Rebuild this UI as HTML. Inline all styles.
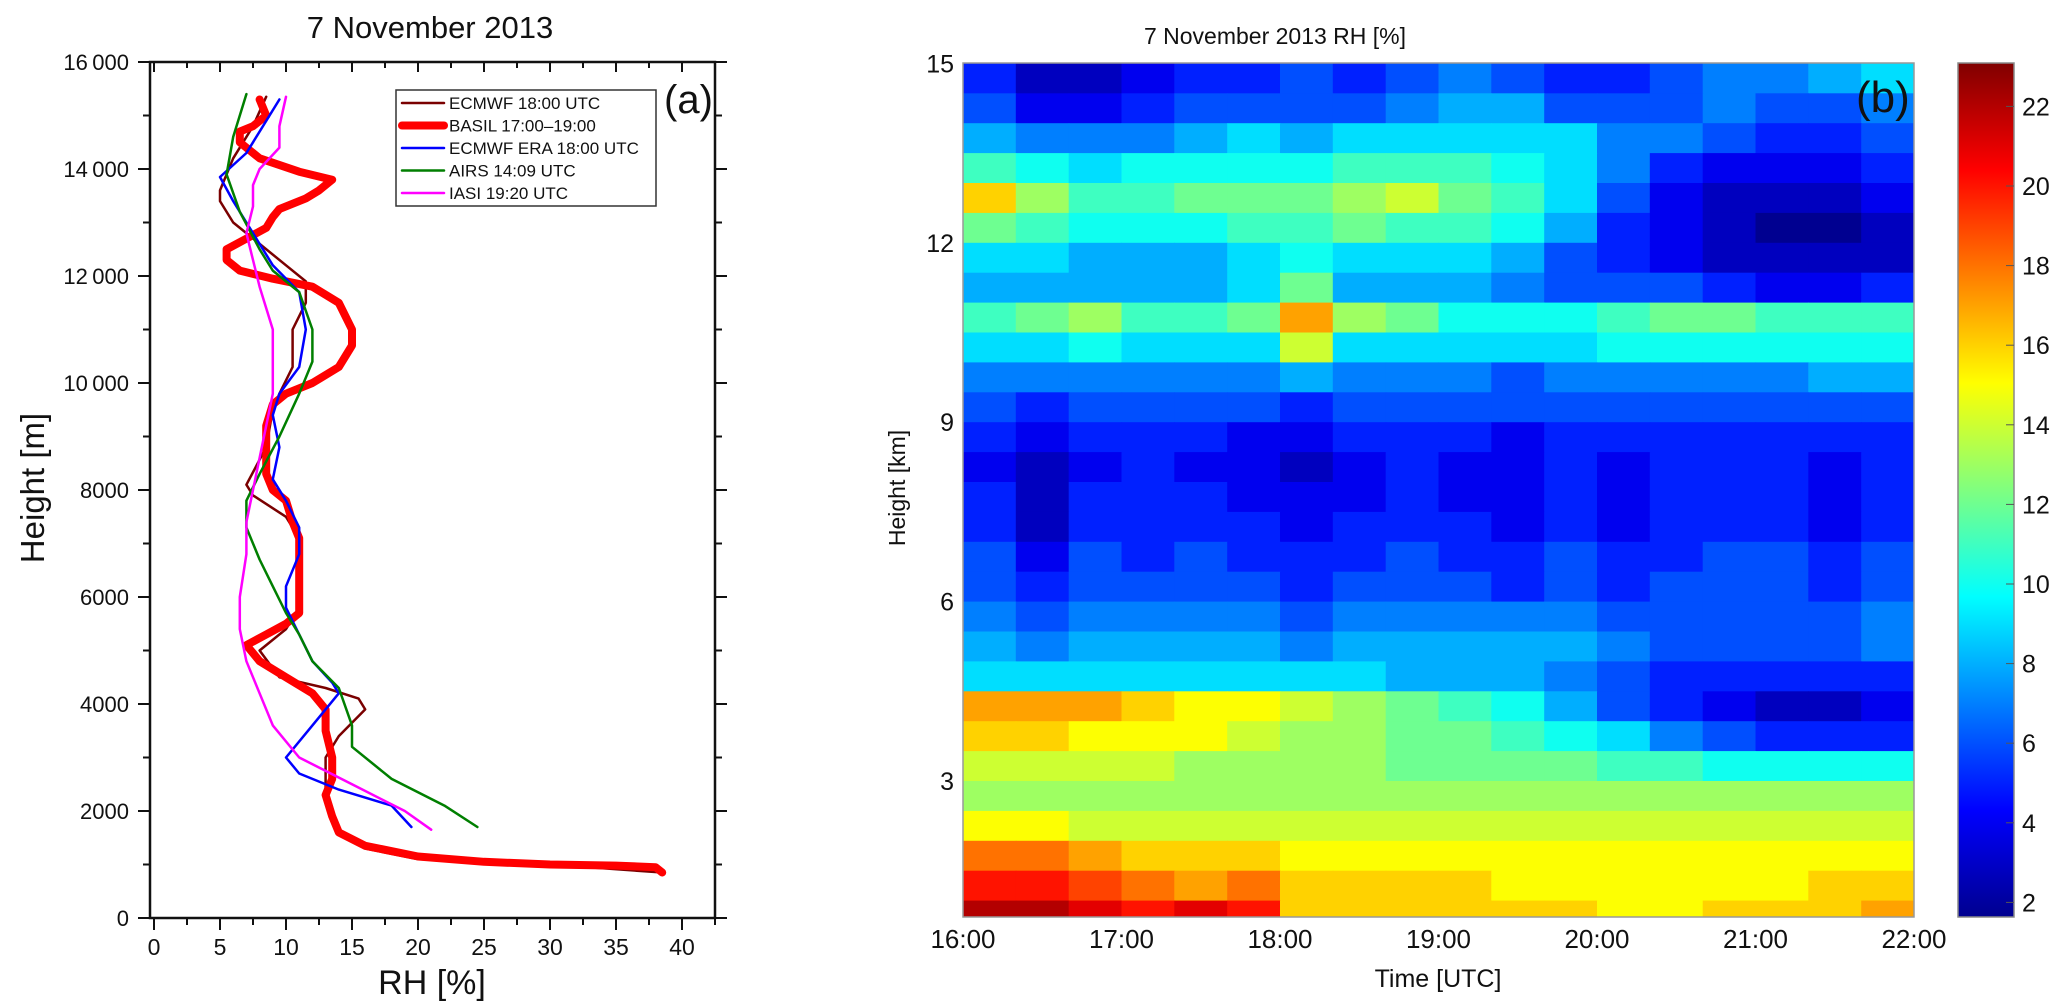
<!DOCTYPE html>
<html><head><meta charset="utf-8">
<style>
html,body{margin:0;padding:0;background:#fff;}
svg{display:block;font-family:"Liberation Sans",Arial,sans-serif;}
</style></head>
<body>
<svg id="fig" width="2067" height="1008" viewBox="0 0 2067 1008" xmlns="http://www.w3.org/2000/svg">
<defs>
<clipPath id="clipA"><rect x="150" y="63" width="565" height="855"/></clipPath>
<clipPath id="clipB"><rect x="963" y="63" width="951" height="854"/></clipPath>
<linearGradient id="jet" x1="0" y1="1" x2="0" y2="0">
<stop offset="0" stop-color="#00008f"/><stop offset="0.125" stop-color="#0000ff"/>
<stop offset="0.375" stop-color="#00ffff"/><stop offset="0.625" stop-color="#ffff00"/>
<stop offset="0.875" stop-color="#ff0000"/><stop offset="1" stop-color="#800000"/>
</linearGradient>
</defs>
<g id="panelA"></g>
<g id="panelB"></g>
</svg>
<script>
// ---------- Panel (a) data ----------
const basilRH = [8,8.5,7.5,6.5,6.5,8,11,13.5,12.5,11.5,9.5,9,8.5,7,5.5,5.5,6.5,9,12,14,15,15,14,12,10,9,8.5,8.5,8.5,9,10,10.5,11,11,11,11,10,8.5,7,8,10,12,13,13,13.5,13.5,13,13.5,14,16,20,25,30,35,38,38.5];
const basilH = [15300,15000,14800,14700,14500,14200,13950,13800,13600,13450,13250,13100,12900,12700,12500,12300,12100,11950,11800,11500,11000,10700,10300,10000,9800,9600,9200,8800,8300,8000,7800,7400,7100,6800,6200,5700,5500,5300,5100,4800,4500,4200,3900,3500,3000,2600,2300,1900,1600,1350,1150,1050,1000,980,950,850];
const ecmwfRH = [8.5,7.5,6,5,5,6,8,10,11.5,11.5,10.5,10.5,9.5,9,8.5,7,7.5,10,11,11,11,10,8,9.5,13,15.5,16,14,13,13,13,14,16,20,30,38.5];
const ecmwfH = [15350,14800,14200,13600,13400,13000,12600,12200,11900,11500,11000,10300,9800,9500,8800,8100,7900,7500,7100,6500,5800,5400,5000,4500,4300,4100,3900,3400,3000,2500,2200,1600,1300,1100,1000,850];
const eraRH = [9.5,7,5,6,7,8,9,11,11.5,11,9.5,9,9.5,9,10,11,11,10,10,11,12,13.5,14,12,10,11,14,18,19.5];
const eraH = [15300,14300,13850,13400,13000,12600,12200,11700,11000,10300,9800,9400,8800,8200,7800,7300,6800,6200,5800,5300,4800,4400,4200,3600,3000,2700,2400,2100,1700];
const airsRH = [7,6,5.5,6.5,8,9,11,12,12,11,9.5,8,7,7,8,9,10,11,12,14,15,15,18,22,24.5];
const airsH = [15400,14600,13900,13200,12500,12100,11700,11000,10400,9800,9000,8300,7800,7300,6700,6200,5700,5300,4800,4300,3600,3200,2600,2100,1700];
const iasiRH = [10,9.5,9.5,8,7.5,7.5,7,7.5,8,8.5,9,9,9,8.5,8,7.5,7,7,6.5,6.5,7,8,9,11,15,19,21];
const iasiH = [15350,14800,14400,14000,13700,13300,12800,12300,11800,11400,11000,10500,9800,9200,8600,8000,7400,6800,6000,5400,4800,4200,3600,3000,2500,2000,1650];
const xTicksA = [0,5,10,15,20,25,30,35,40];
const yTicksA = [0,2000,4000,6000,8000,10000,12000,14000,16000];
const yTickLabelsA = ["0","2000","4000","6000","8000","10\u2009000","12\u2009000","14\u2009000","16\u2009000"];
const legendLabels = ["ECMWF 18:00 UTC","BASIL 17:00\u201319:00","ECMWF ERA 18:00 UTC","AIRS 14:09 UTC","IASI 19:20 UTC"];

// ---------- Panel (b) data ----------
const timeTickLabels = ["16:00","17:00","18:00","19:00","20:00","21:00","22:00"];
const timeTicks = [16,17,18,19,20,21,22];
const heightTicks = [3,6,9,12,15];
const cbTicks = [2,4,6,8,10,12,14,16,18,20,22];
const colStarts = [16,16.333,16.667,17,17.333,17.667,18,18.333,18.667,19,19.333,19.667,20,20.333,20.667,21,21.333,21.667];
const rowCenters = [14.75,14.25,13.75,13.25,12.75,12.25,11.75,11.25,10.75,10.25,9.75,9.25,8.75,8.25,7.75,7.25,6.75,6.25,5.75,5.25,4.75,4.25,3.75,3.25,2.75,2.25,1.75,1.25,0.75];
const rh_14_75 = [5,3,3,4,5,5,6,5,6,7,6,5,5,6,7,7,8,9];
const rh_14_25 = [6,4,4,5,6,6,6,6,7,8,8,6,6,6,7,6,6,7];
const rh_13_75 = [8,7,7,7,8,9,8,9,9,9,9,9,7,7,6,5,5,6];
const rh_13_25 = [11,10,9,10,10,10,10,11,11,11,10,9,7,5,4,4,4,5];
const rh_12_75 = [16,13,11,11,12,12,12,13,14,12,11,9,6,4,3,3,3,4];
const rh_12_25 = [12,11,10,10,10,11,11,12,11,11,10,8,5,4,3,2,2,3];
const rh_11_75 = [9,9,8,8,8,9,10,9,9,9,8,6,5,4,3,3,3,3];
const rh_11_25 = [8,8,8,8,8,9,12,8,8,8,7,6,6,6,5,4,4,5];
const rh_10_75 = [11,12,13,11,11,12,17,13,12,10,10,10,11,12,12,11,11,11];
const rh_10_25 = [9,9,10,9,9,9,14,9,9,9,9,9,10,10,10,10,10,10];
const rh_9_75 = [7,7,7,7,7,7,8,7,7,7,6,7,7,7,7,7,8,8];
const rh_9_25 = [6,5,6,6,6,6,5,6,6,6,6,6,6,6,6,6,6,6];
const rh_8_75 = [5,4,5,5,5,4,4,5,5,5,4,5,5,5,5,5,5,5];
const rh_8_25 = [4,3,4,5,4,4,3,4,5,4,4,5,4,5,5,5,4,5];
const rh_7_75 = [5,3,5,5,5,4,4,4,5,4,4,5,4,5,5,5,4,5];
const rh_7_25 = [5,3,5,5,5,5,4,5,5,5,4,5,4,5,5,5,4,5];
const rh_6_75 = [6,4,6,5,6,5,5,5,6,5,5,6,5,5,6,6,5,6];
const rh_6_25 = [6,5,6,6,6,6,5,6,6,6,5,6,5,6,6,6,5,6];
const rh_5_75 = [7,6,7,7,7,7,6,7,7,7,7,7,6,6,6,6,6,7];
const rh_5_25 = [8,7,8,8,8,8,7,8,8,8,8,8,7,6,6,6,6,7];
const rh_4_75 = [9,9,9,9,9,9,9,9,8,8,8,7,6,5,5,5,5,5];
const rh_4_25 = [17,17,17,16,15,15,14,13,12,11,10,8,6,5,4,3,3,4];
const rh_3_75 = [16,16,15,15,15,14,13,13,12,12,11,10,9,7,6,5,5,5];
const rh_3_25 = [14,14,14,14,13,13,13,13,12,12,12,12,11,11,10,10,10,10];
const rh_2_75 = [13,13,13,13,13,13,13,13,13,13,13,13,13,13,13,13,13,13];
const rh_2_25 = [15,15,14,14,14,14,14,14,14,14,14,14,14,14,14,14,14,14];
const rh_1_75 = [18,18,17,16,16,16,15,15,15,15,15,15,15,15,15,15,15,15];
const rh_1_25 = [20,20,19,18,17,18,16,16,16,16,15,15,15,15,15,15,16,16];
const rh_0_75 = [22,22,21,20,21,20,16,16,16,16,16,16,15,15,16,16,16,17];
const rhGrid = [rh_14_75,rh_14_25,rh_13_75,rh_13_25,rh_12_75,rh_12_25,rh_11_75,rh_11_25,rh_10_75,rh_10_25,rh_9_75,rh_9_25,rh_8_75,rh_8_25,rh_7_75,rh_7_25,rh_6_75,rh_6_25,rh_5_75,rh_5_25,rh_4_75,rh_4_25,rh_3_75,rh_3_25,rh_2_75,rh_2_25,rh_1_75,rh_1_25,rh_0_75];

const NS = "http://www.w3.org/2000/svg";
function mk(parent, tag, attrs, text){
  const e = document.createElementNS(NS, tag);
  for (const k in attrs) e.setAttribute(k, attrs[k]);
  if (text !== undefined) e.textContent = text;
  parent.appendChild(e);
  return e;
}
// ---------- Panel (a) ----------
const A = document.getElementById('panelA');
const axL=150, axR=715, axT=62, axB=918;
const xA = v => 154 + v*13.2;
const yA = h => 918 - h*(856/16000);

const titleA = mk(A,'text',{x:430,y:38,'text-anchor':'middle','font-size':31,fill:'#111'},'7 November 2013');



for (let h=0; h<=16000; h+=1000){
  const major = h%2000===0;
  const t = mk(A,'line',{x1:axL-(major?12:7),x2:axL,y1:yA(h),y2:yA(h),stroke:'#111','stroke-width':2});
  
  
  const r = mk(A,'line',{x1:axR,x2:axR+(major?12:7),y1:yA(h),y2:yA(h),stroke:'#111','stroke-width':2});
  
  
}
yTicksA.forEach((h,i)=>{
  const t = mk(A,'text',{x:129,y:yA(h)+8,'text-anchor':'end','font-size':22,fill:'#111'},yTickLabelsA[i]);
  
  
});
for (let v=0; v<=42.5; v+=2.5){
  const major = v%5===0;
  const t = mk(A,'line',{x1:xA(v),x2:xA(v),y1:axB,y2:axB+(major?12:7),stroke:'#111','stroke-width':2});
  
  
  const u = mk(A,'line',{x1:xA(v),x2:xA(v),y1:axT,y2:axT+(major?10:6),stroke:'#111','stroke-width':2});
  
  
}
xTicksA.forEach(v=>{
  const t = mk(A,'text',{x:xA(v),y:955,'text-anchor':'middle','font-size':23,fill:'#111'},String(v));
  
  
});
const frame = mk(A,'rect',{x:axL,y:axT,width:axR-axL,height:axB-axT,fill:'none',stroke:'#111','stroke-width':2.5});



const yTitleA = mk(A,'text',{x:0,y:0,transform:'translate(44,488) rotate(-90)','text-anchor':'middle','font-size':33,fill:'#111'},'Height [m]');


const xTitleA = mk(A,'text',{x:432,y:994,'text-anchor':'middle','font-size':34,fill:'#111'},'RH [%]');



const series = [
  {rh:ecmwfRH,h:ecmwfH,c:'#7a0000',w:2.5,n:'ecmwf-line'},
  {rh:basilRH,h:basilH,c:'#ff0000',w:8,n:'basil-line'},
  {rh:eraRH,h:eraH,c:'#0000ff',w:2.5,n:'ecmwf-era-line'},
  {rh:airsRH,h:airsH,c:'#007f00',w:2.5,n:'airs-line'},
  {rh:iasiRH,h:iasiH,c:'#ff00ff',w:2.5,n:'iasi-line'}
];
const lineG = mk(A,'g',{'clip-path':'url(#clipA)'});


series.forEach(s=>{
  const d = s.rh.map((v,i)=>(i?'L':'M')+xA(v).toFixed(1)+','+yA(s.h[i]).toFixed(1)).join(' ');
  const p = mk(lineG,'path',{d:d,fill:'none',stroke:s.c,'stroke-width':s.w,'stroke-linejoin':'round','stroke-linecap':'round'});
  
  
});
const leg = mk(A,'g',{});


mk(leg,'rect',{x:396,y:90,width:260,height:116,fill:'#fff',stroke:'#333','stroke-width':1.5});
const legColors=['#7a0000','#ff0000','#0000ff','#007f00','#ff00ff'];
const legWidths=[2.5,8,2.5,2.5,2.5];
legendLabels.forEach((lab,i)=>{
  const y = 103 + i*22.5;
  const ln = mk(leg,'line',{x1:402,x2:444,y1:y,y2:y,stroke:legColors[i],'stroke-width':legWidths[i],'stroke-linecap':'round'});
  
  
  const t = mk(leg,'text',{x:449,y:y+6,'font-size':17,fill:'#111'},lab);
  
  
});
const tagA = mk(A,'text',{x:664,y:113,'font-size':40,fill:'#111'},'(a)');



// ---------- Panel (b) ----------
const B = document.getElementById('panelB');
const bL=963, bR=1914, bT=63, bB=917;
const xB = t => bL + (t-16)*(bR-bL)/6;
const yB = km => 781 - (km-3)*59.8;
const vmin=1.66, vmax=23.08;
function jet(v){
  let t=(v-vmin)/(vmax-vmin); t=Math.max(0,Math.min(1,t));
  const cl=x=>Math.round(255*Math.max(0,Math.min(1,x)));
  return 'rgb('+cl(1.5-Math.abs(4*t-3))+','+cl(1.5-Math.abs(4*t-2))+','+cl(1.5-Math.abs(4*t-1))+')';
}
const hm = mk(B,'g',{'clip-path':'url(#clipB)'});


rhGrid.forEach((row,ri)=>{
  const yc = rowCenters[ri];
  row.forEach((v,ci)=>{
    const x0 = xB(colStarts[ci]);
    const x1 = ci+1<colStarts.length ? xB(colStarts[ci+1]) : bR;
    const r = mk(hm,'rect',{x:x0.toFixed(1),y:yB(yc+0.25).toFixed(1),width:(x1-x0+0.6).toFixed(1),height:(59.8*0.5+0.6).toFixed(1),fill:jet(v)});
    
    
  });
});
const bf = mk(B,'rect',{x:bL,y:bT,width:bR-bL,height:bB-bT,fill:'none',stroke:'#999','stroke-width':1.5});


const titleB = mk(B,'text',{x:1275,y:44,'text-anchor':'middle','font-size':23,fill:'#111'},'7 November 2013 RH [%]');


heightTicks.forEach(k=>{
  const t = mk(B,'text',{x:954,y:yB(k)+9,'text-anchor':'end','font-size':25,fill:'#111'},String(k));
  
  
});
timeTicks.forEach((h,i)=>{
  const t = mk(B,'text',{x:xB(h),y:948,'text-anchor':'middle','font-size':26,fill:'#111'},timeTickLabels[i]);
  
  
});
const yTitleB = mk(B,'text',{x:0,y:0,transform:'translate(905,488) rotate(-90)','text-anchor':'middle','font-size':23,fill:'#111'},'Height [km]');


const xTitleB = mk(B,'text',{x:1438,y:987,'text-anchor':'middle','font-size':25,fill:'#111'},'Time [UTC]');


const tagB = mk(B,'text',{x:1856,y:112,'font-size':44,fill:'#111'},'(b)');


const cbY = v => 186 - (v-20)*39.8;
const cb = mk(B,'rect',{x:1958,y:63,width:56,height:854,fill:'url(#jet)',stroke:'#888','stroke-width':1.5});


cbTicks.forEach(v=>{
  const t = mk(B,'text',{x:2022,y:cbY(v)+9,'font-size':25,fill:'#111'},String(v));
  
  
  const l = mk(B,'line',{x1:2006,x2:2014,y1:cbY(v),y2:cbY(v),stroke:'#555','stroke-width':1});
  
  
});
</script>
</body></html>
